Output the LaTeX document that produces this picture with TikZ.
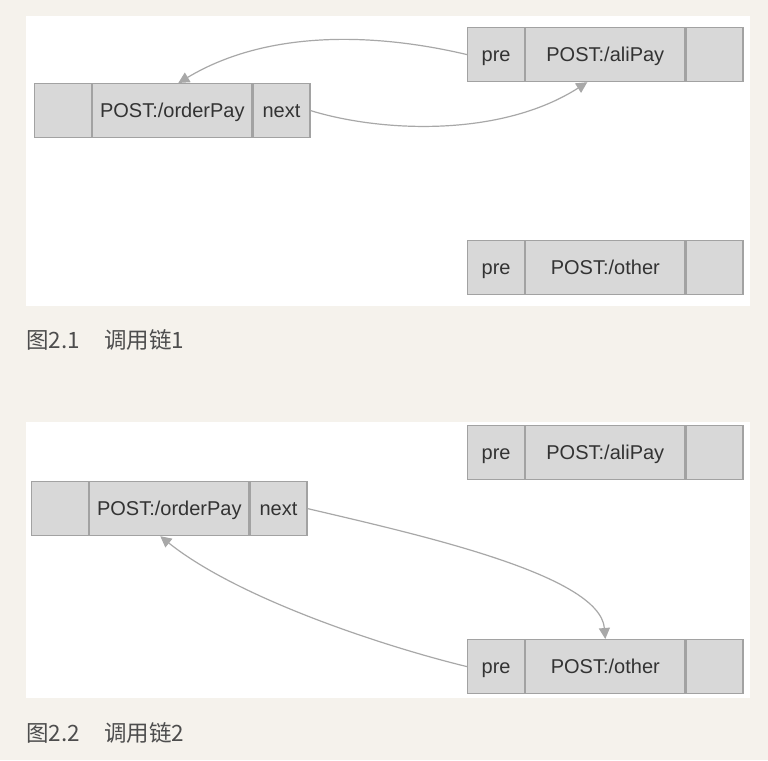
\documentclass[tikz,border=0pt]{standalone}
\usepackage{fontspec}
\setsansfont{Liberation Sans}
\newfontfamily\cjkfont{Noto Sans CJK SC}
\usetikzlibrary{positioning,arrows.meta}
\definecolor{pagebg}{HTML}{F5F2EC}
\definecolor{cellfill}{HTML}{D8D8D8}
\definecolor{celldraw}{HTML}{A2A2A2}
\definecolor{linkgray}{HTML}{A8A8A8}
\definecolor{captiongray}{HTML}{4D4D4D}
\tikzset{
    cell/.style={draw=celldraw, fill=cellfill, line width=1.2pt, minimum height=54pt,
        inner sep=0pt, text height=16pt, text depth=2pt, text=black!80,
        font=\sffamily\fontsize{20}{20}\selectfont},
    side/.style={cell, minimum width=57pt},
    body/.style={cell, minimum width=159pt},
    link/.style={draw=linkgray, line width=1.2pt, -{Triangle[length=11pt,width=11pt]}},
    caption/.style={anchor=west, inner sep=0pt, text=captiongray,
        font=\cjkfont\fontsize{22.5}{22.5}\selectfont},
}
\begin{document}
\begin{tikzpicture}[x=1pt, y=-1pt, node distance=0pt]
    \useasboundingbox(0,0)rectangle(768,760);
    \fill[pagebg](0,0)rectangle(768,760);
    \fill[white](26,16)rectangle(750,306);
    \fill[white](26,422)rectangle(750,698);

    % chain 1
    \node[side, anchor=north west](orderA1)at(34,83){};
    \node[body, right=of orderA1](orderA2){POST:/orderPay};
    \node[side, right=of orderA2](orderA3){next};

    \node[side, anchor=north west](aliA1)at(467,27){pre};
    \node[body, right=of aliA1](aliA2){POST:/aliPay};
    \node[side, right=of aliA2](aliA3){};

    \node[side, anchor=north west](otherA1)at(467,239.5){pre};
    \node[body, right=of otherA1](otherA2){POST:/other};
    \node[side, right=of otherA2](otherA3){};

    \draw[link](aliA1.west) .. controls (380,34) and (270,28) .. ([xshift=6pt]orderA2.north);
    \draw[link](orderA3.east) .. controls (380,132) and (500,138) .. ([xshift=-18pt]aliA2.south);

    \node[caption](capA)at(26,340){图2.1\hspace{2pt}　调用链1};

    % chain 2
    \node[side, anchor=north west](orderB1)at(31,481){};
    \node[body, right=of orderB1](orderB2){POST:/orderPay};
    \node[side, right=of orderB2](orderB3){next};

    \node[side, anchor=north west](aliB1)at(467,424.5){pre};
    \node[body, right=of aliB1](aliB2){POST:/aliPay};
    \node[side, right=of aliB2](aliB3){};

    \node[side, anchor=north west](otherB1)at(467,639){pre};
    \node[body, right=of otherB1](otherB2){POST:/other};
    \node[side, right=of otherB2](otherB3){};

    \draw[link](orderB3.east) .. controls (420,535) and (600,575) .. (otherB2.north);
    \draw[link](otherB1.west) .. controls (390,648) and (240,600) .. ([xshift=-9pt]orderB2.south);

    \node[caption](capB)at(26,733){图2.2\hspace{2pt}　调用链2};
\end{tikzpicture}
\end{document}
